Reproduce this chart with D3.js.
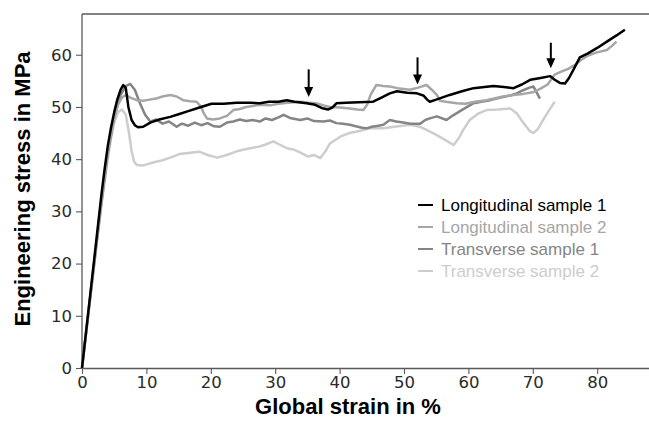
<!DOCTYPE html>
<html>
<head>
<meta charset="utf-8">
<script src="https://cdn.jsdelivr.net/npm/d3@7/dist/d3.min.js"></script>
<style>
  html, body { margin: 0; padding: 0; background: #fff; }
  svg { display: block; }
</style>
</head>
<body>
<svg id="chart" width="649" height="429"></svg>
<script>
// Tensile test curves: [global strain %, engineering stress MPa]
const longitudinal1 = [[0,0],[1,11],[2,22],[3,33],[3.5,38],[4,42.5],[4.5,46],[5,49],[5.5,51.5],[6,53.3],[6.4,54.2],[6.8,53.6],[7.2,50],[7.7,47.5],[8.2,46.5],[8.7,46.1],[9.5,46.2],[10.6,47],[12,47.6],[13.7,48.1],[15,48.6],[16.5,49.2],[18,49.8],[20.1,50.6],[22,50.6],[24,50.8],[26.1,50.8],[27.6,50.7],[29,51],[30.5,51],[31.8,51.3],[33,51],[34.9,50.7],[36.2,50.4],[37.2,49.8],[38.2,49.5],[38.9,49.9],[39.5,50.7],[41,50.8],[43,50.9],[45.2,51],[46.5,51.8],[47.8,52.6],[48.9,53],[50.5,52.7],[52,52.6],[53,52.2],[53.6,51.4],[54,51],[55,51.4],[57.1,52.3],[59,53],[60.8,53.6],[62.5,53.8],[63.9,54],[65.5,53.8],[67,53.6],[68.3,54.3],[69.6,55.2],[71,55.5],[72.7,55.9],[73.4,55.2],[74.2,54.6],[75,54.5],[75.6,55.5],[76.3,57.1],[77.3,59.5],[78.5,60.2],[80,61.3],[81.5,62.5],[83,63.7],[84.3,64.8]];

const longitudinal2 = [[0,0],[1,10.8],[2,21.5],[3,32],[4,41.5],[5,48],[5.6,50.5],[6.2,51.8],[6.8,52.3],[7.5,51.8],[8.5,51.3],[9.5,51.2],[10.5,51.4],[11.5,51.6],[12.5,52],[13.7,52.3],[14.7,52],[15.7,51.3],[16.8,51.1],[17.8,51],[18.5,50],[18.9,48.8],[19.4,47.8],[20.3,47.6],[21.4,47.8],[22.5,48.3],[23.5,49.4],[24.5,49.6],[25.5,50],[27.6,50.4],[29.2,50.3],[30.5,50.6],[32,50.8],[33.9,51],[35.2,50.8],[36.4,50.7],[37.5,50.3],[38.5,50],[40,49.9],[41.6,49.7],[42.7,49.5],[43.7,49.4],[44.3,50.5],[44.8,52.3],[45.7,54.2],[46.8,54],[47.8,53.9],[49,53.6],[50.9,53.3],[52.2,53.7],[53.5,54.2],[54.3,53.3],[55.1,52.3],[55.6,51.2],[56.5,51],[58.2,50.7],[59.5,50.6],[61,51],[62.8,51.3],[64,51.6],[65.4,52],[67,52.3],[68.5,52.5],[70,52.8],[71.2,53.5],[72.3,54.3],[73.4,56.2],[74.5,56.8],[75.5,57.3],[76.5,58],[77.5,59],[78.5,59.8],[79.8,60.4],[81.5,60.9],[82.2,61.6],[83,62.5]];

const transverse1 = [[0,0],[1,10.5],[2,21],[3,31.5],[4,41],[5,48],[6,52.3],[6.8,54],[7.5,54.4],[8.2,53.3],[9,50.7],[9.8,48.5],[10.6,47.2],[11.5,47.6],[12.5,46.8],[13.5,47.2],[14.7,46.2],[15.5,46.8],[16.5,46.4],[17.5,47],[18.5,46.5],[19.5,46.9],[20.5,46.3],[21.4,46.2],[22.5,47],[23.5,47.2],[24.5,47.6],[25.5,47.3],[26.5,47.5],[27.6,47.2],[28.5,47.8],[29.5,47.5],[30.5,48],[31.3,48.5],[32.3,47.9],[33.9,47.5],[35,47.8],[36,47.3],[37.5,47.2],[38.5,47.4],[39.5,46.9],[40.5,46.8],[41.6,46.6],[42.5,46.3],[43.5,46],[44.2,45.9],[45,46.2],[46,46.4],[46.8,46.6],[47.8,47.5],[48.8,47.2],[49.9,47],[51,46.8],[52.5,46.8],[53.3,47.5],[54,47.8],[55.1,48.2],[56.6,47.5],[57.5,48.3],[58.7,49.2],[59.8,50],[60.8,50.7],[62,51],[63.4,51.3],[65,51.8],[66.5,52.2],[67.5,52.6],[68.5,53.2],[69.5,53.7],[70.1,53.9],[70.6,52.8],[71.1,51.6]];

const transverse2 = [[0,0],[1,10.5],[2,21],[3,31],[4,40],[4.5,44],[5,47],[5.6,49],[6.2,49.5],[6.8,48.5],[7.3,45],[7.7,41.5],[8.1,39.5],[8.5,38.9],[9.5,38.8],[10.6,39.2],[11.5,39.5],[12.5,39.8],[13.7,40.3],[15.2,41],[16.5,41.2],[18.3,41.4],[19.5,40.8],[21,40.3],[22.5,40.8],[24,41.5],[26.1,42.1],[27.5,42.4],[28.5,42.8],[29.7,43.4],[30.5,42.9],[31.8,42.1],[33,41.8],[34,41.2],[35.1,40.5],[36,40.8],[37,40.2],[37.8,41.5],[38.5,43],[40.1,44.3],[41.5,45],[42.7,45.3],[44.7,45.9],[46.8,45.9],[48.5,46.2],[50.9,46.6],[52.5,46.2],[53.5,45.6],[55.1,44.6],[56.5,43.6],[57.7,42.7],[58.5,44],[59.2,45.6],[60.2,47.5],[61.5,48.7],[62.8,49.4],[64.5,49.5],[66.5,49.7],[67.5,48.8],[68.5,47],[69.6,45.3],[70.1,45],[70.8,45.8],[71.6,47.5],[72.5,49.3],[73.4,51]];

const seriesNames = ["Longitudinal sample 1", "Longitudinal sample 2", "Transverse sample 1", "Transverse sample 2"];
const seriesColors = ["#000000", "#a6a6a6", "#858585", "#cdcdcd"];

// Marked events: strain position, arrow tail stress, arrow tip stress
const arrowStrain = [35.2, 52.1, 72.8];
const arrowTail = [57.2, 59.5, 62.3];
const arrowTip = [51.9, 54.3, 57.4];

const xTicks = [0, 10, 20, 30, 40, 50, 60, 70, 80];
const yTicks = [0, 10, 20, 30, 40, 50, 60];

const svg = d3.select("#chart");
const m = { left: 82, top: 14, bottom: 368 };
const x = d3.scaleLinear().domain([0, 90]).range([m.left, m.left + 90 * 6.44]);
const y = d3.scaleLinear().domain([0, 67.8]).range([m.bottom, m.top]);

const axisColor = "#5a5a5a";

// axes
const gx = svg.append("g").attr("transform", `translate(0,${m.bottom})`)
  .call(d3.axisBottom(x).tickValues(xTicks).tickSize(6).tickPadding(2).tickSizeOuter(0));
const gy = svg.append("g").attr("transform", `translate(${m.left},0)`)
  .call(d3.axisLeft(y).tickValues(yTicks).tickSize(6).tickPadding(4).tickSizeOuter(0));
[gx, gy].forEach(g => {
  g.select(".domain").attr("stroke", axisColor).attr("stroke-width", 1.3);
  g.selectAll(".tick line").attr("stroke", axisColor).attr("stroke-width", 1.1);
  g.selectAll(".tick text").attr("fill", "#2a2a2a")
    .style("font-family", "DejaVu Sans").style("font-size", "16.5px");
});
gy.select(".domain").attr("d", `M0,${m.bottom}V${m.top}`);
// top spine
svg.append("line")
  .attr("x1", m.left).attr("x2", x(90)).attr("y1", m.top).attr("y2", m.top)
  .attr("stroke", axisColor).attr("stroke-width", 1.3);

// curves, black drawn last
const line = d3.line().x(d => x(d[0])).y(d => y(d[1]));
const allSeries = [longitudinal1, longitudinal2, transverse1, transverse2];
[3, 2, 1, 0].forEach(i => {
  svg.append("path").datum(allSeries[i])
    .attr("d", line)
    .attr("fill", "none")
    .attr("stroke", seriesColors[i])
    .attr("stroke-width", 2.5)
    .attr("stroke-linejoin", "round");
});

// arrows
arrowStrain.forEach((s, i) => {
  const xp = x(s), y0 = y(arrowTail[i]), y1 = y(arrowTip[i]);
  svg.append("line").attr("x1", xp).attr("x2", xp).attr("y1", y0).attr("y2", y1 - 8)
    .attr("stroke", "#000").attr("stroke-width", 2);
  svg.append("path")
    .attr("d", `M${xp - 4.5},${y1 - 10}L${xp + 4.5},${y1 - 10}L${xp},${y1}Z`)
    .attr("fill", "#000");
});

// legend
const leg = svg.append("g");
seriesNames.forEach((name, i) => {
  const cy = 205 + i * 22;
  leg.append("line").attr("x1", 418).attr("x2", 433).attr("y1", cy).attr("y2", cy)
    .attr("stroke", seriesColors[i]).attr("stroke-width", 2);
  leg.append("text").attr("x", 441).attr("y", cy + 6)
    .attr("fill", seriesColors[i])
    .style("font-family", "Liberation Sans, Arial, sans-serif")
    .style("font-size", "17px")
    .text(name);
});

// axis titles
svg.append("text")
  .attr("x", 348).attr("y", 414)
  .attr("text-anchor", "middle")
  .style("font-family", "Liberation Sans, Arial, sans-serif")
  .style("font-weight", "bold").style("font-size", "22px")
  .attr("fill", "#000")
  .text("Global strain in %");
svg.append("text")
  .attr("transform", "translate(30,189) rotate(-90)")
  .attr("text-anchor", "middle")
  .style("font-family", "Liberation Sans, Arial, sans-serif")
  .style("font-weight", "bold").style("font-size", "22px")
  .attr("fill", "#000")
  .text("Engineering stress in MPa");
</script>
</body>
</html>
